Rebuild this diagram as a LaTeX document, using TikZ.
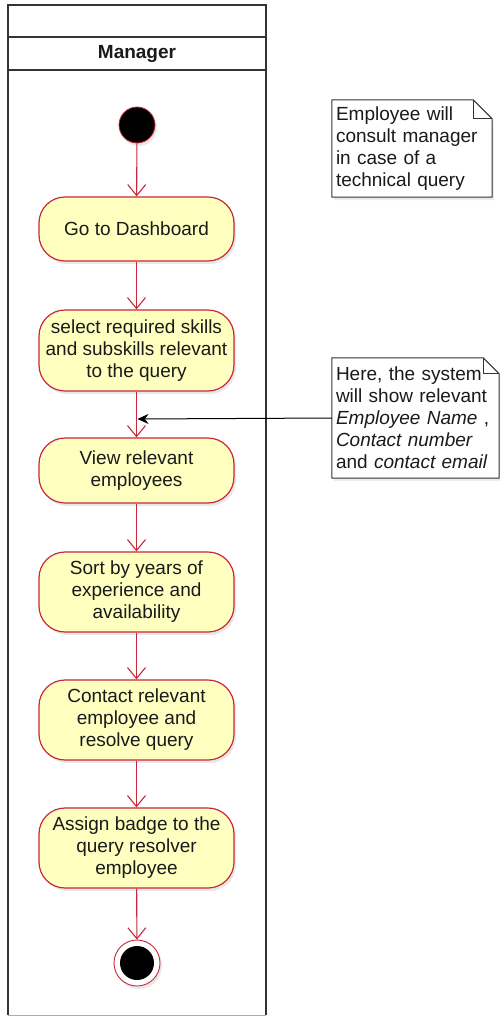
\documentclass[tikz,border=0pt]{standalone}
\usepackage{fontspec}
\setmainfont{Liberation Sans}
\usetikzlibrary{arrows.meta,shadows}
\definecolor{boxfill}{HTML}{FFFFC0}
\definecolor{boxline}{HTML}{C8283A}
\definecolor{laneline}{HTML}{333333}
\definecolor{txt}{HTML}{1A1A1A}
\tikzset{
  act/.style={draw=boxline, line width=1.2pt, fill=boxfill, rounded corners=26pt,
    minimum width=195pt, text=txt, align=center,
    font=\fontsize{19}{22}\selectfont,
    drop shadow={opacity=0.18, shadow xshift=2pt, shadow yshift=-3pt}},
  flow/.style={draw=boxline, line width=1.1pt, -{Straight Barb[length=11pt,width=18pt,line width=1.1pt]}},
  notebox/.style={minimum width=#1, align=left, inner sep=4pt, text=txt,
    font=\fontsize{19}{22}\selectfont, text width=#1-8pt},
  noteline/.style={draw=laneline, line width=1pt, fill=white,
    drop shadow={opacity=0.15, shadow xshift=2pt, shadow yshift=-3pt}},
  foldline/.style={draw=laneline, line width=1pt},
  lane/.style={draw=laneline, line width=1.4pt}
}
\begin{document}
\begin{tikzpicture}[x=1pt,y=-1pt]
\useasboundingbox (0,0) rectangle (500,1017);
% swimlane
\draw[lane] (8,1015) -- (8,5) -- (266,5) -- (266,1015);
\draw[lane] (8,37) -- (266,37);
\draw[lane] (8,70) -- (266,70);
\draw[draw=laneline!40, line width=0.8pt] (8,1015) -- (266,1015);
\node[font=\bfseries\fontsize{19}{22}\selectfont, text=txt] (lanetitle) at (137,54) {Manager};
% start
\node[circle, fill=black, draw=boxline, line width=0.8pt, minimum size=36pt, inner sep=0pt,
  drop shadow={opacity=0.18, shadow xshift=2pt, shadow yshift=-3pt}] (start) at (137,125) {};
% activities
\node[act, minimum height=64pt] (go) at (136.5,229) {Go to Dashboard};
\node[act, minimum height=81pt] (sel) at (136.5,350.5) {select required skills\\and subskills relevant\\to the query};
\node[act, minimum height=65pt] (view) at (136.5,470.5) {View relevant\\employees};
\node[act, minimum height=80pt] (sort) at (136.5,592) {Sort by years of\\experience and\\availability};
\node[act, minimum height=80pt] (contact) at (136.5,720) {Contact relevant\\employee and\\resolve query};
\node[act, minimum height=80pt] (assign) at (136.5,848) {Assign badge to the\\query resolver\\employee};
% end
\node[circle, fill=white, draw=boxline, line width=0.9pt, minimum size=46pt, inner sep=0pt,
  drop shadow={opacity=0.18, shadow xshift=2pt, shadow yshift=-3pt}] (stop) at (137,963) {};
\node[circle, fill=black, minimum size=34pt, inner sep=0pt] (stopin) at (137,963) {};
% flows
\draw[flow] (start) -- (go);
\draw[flow] (go) -- (sel);
\draw[flow] (sel) -- (view);
\draw[flow] (view) -- (sort);
\draw[flow] (sort) -- (contact);
\draw[flow] (contact) -- (assign);
\draw[flow] (assign) -- (stop);
% note 1
\path node[notebox=160pt, minimum height=97pt] (n1) at (412,148.5) {};
\draw[noteline] (n1.north west) -- ([xshift=-19pt]n1.north east) -- ([yshift=-19pt]n1.north east) -- (n1.south east) -- (n1.south west) -- cycle;
\draw[foldline] ([xshift=-19pt]n1.north east) -- ([xshift=-19pt,yshift=-19pt]n1.north east) -- ([yshift=-19pt]n1.north east);
\node[notebox=160pt, minimum height=97pt] (n1text) at (412,148.5) {Employee will\\consult manager\\in case of a\\technical query};
% note 2
\path node[notebox=167pt, minimum height=120pt] (n2) at (415.5,418) {};
\draw[noteline] (n2.north west) -- ([xshift=-16pt]n2.north east) -- ([yshift=-16pt]n2.north east) -- (n2.south east) -- (n2.south west) -- cycle;
\draw[foldline] ([xshift=-16pt]n2.north east) -- ([xshift=-16pt,yshift=-16pt]n2.north east) -- ([yshift=-16pt]n2.north east);
\node[notebox=167pt, minimum height=120pt] (n2text) at (415.5,418) {Here, the system\\will show relevant\\\textit{Employee Name} ,\\\textit{Contact number}\\and \textit{contact email}};
% link
\coordinate (mid) at (137.5,419);
\draw[black, line width=1pt, -{Stealth[length=11pt,width=10pt]}] (n2.west) -- (mid);
\end{tikzpicture}
\end{document}
